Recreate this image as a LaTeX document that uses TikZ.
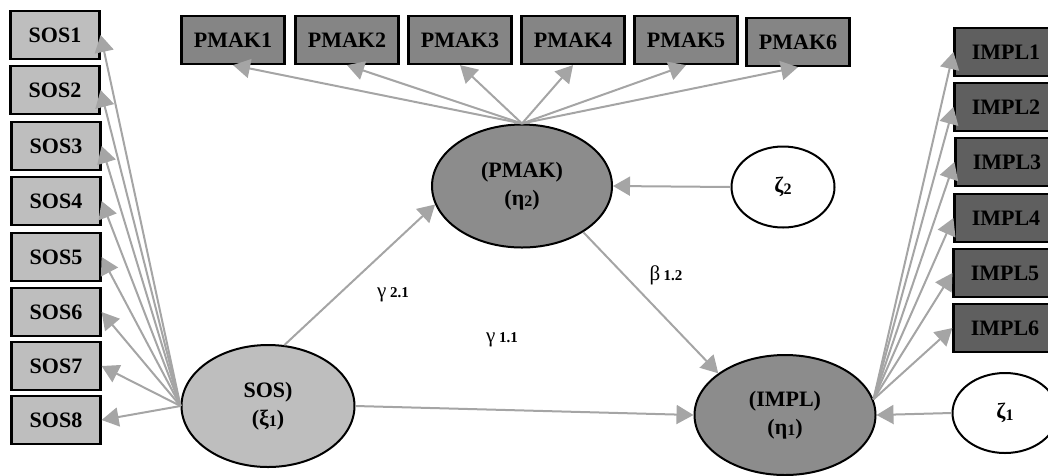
\documentclass[tikz,border=0pt]{standalone}
\usepackage{fontspec}
\setmainfont{Liberation Serif}
\usetikzlibrary{arrows.meta}
\usetikzlibrary{shapes.geometric}
\definecolor{linegray}{RGB}{165,165,165}
\definecolor{soslight}{RGB}{190,190,190}
\definecolor{pmakmid}{RGB}{133,133,133}
\definecolor{impldark}{RGB}{95,95,95}
\definecolor{latmid}{RGB}{140,140,140}
\newcommand{\lsub}[1]{\raisebox{-1.5pt}{\fontsize{16}{16}\selectfont #1}}
\newcommand{\csub}[1]{{\fontsize{15}{15}\selectfont\bfseries #1}}
\tikzset{
	%	ind/.style={rectangle,draw,thick},
	ind/.style={rectangle,draw,line width=2.2pt,minimum width=89pt,minimum height=48pt,font=\fontsize{22}{24}\selectfont\bfseries},
	lat/.style={ellipse,draw,line width=2pt,align=center,font=\fontsize{22}{28}\selectfont\bfseries},
	edge/.style={draw=linegray,line width=2pt,-{Triangle[length=17pt,width=19pt]}},
	coef/.style={font=\fontsize{21}{22}\selectfont}
}

\begin{document}
\begin{tikzpicture}[x=1pt,y=-1pt]
	\useasboundingbox (0,0) rectangle (1048,475);
	\clip (0,0) rectangle (1048,475);
	
	\node[ind,fill=soslight] (sos1) at (55,35) {SOS1};
	\node[ind,fill=soslight] (sos2) at (55,90) {SOS2};
	\node[ind,fill=soslight] (sos3) at (56,146) {SOS3};
	\node[ind,fill=soslight] (sos4) at (56,201) {SOS4};
	\node[ind,fill=soslight] (sos5) at (56,257) {SOS5};
	\node[ind,fill=soslight] (sos6) at (56,312) {SOS6};
	\node[ind,fill=soslight] (sos7) at (56,366) {SOS7};
	\node[ind,fill=soslight] (sos8) at (56,420) {SOS8};
	
	\node[ind,fill=pmakmid,minimum width=103pt] (pmak1) at (233,40) {PMAK1};
	\node[ind,fill=pmakmid,minimum width=103pt] (pmak2) at (347,40) {PMAK2};
	\node[ind,fill=pmakmid,minimum width=103pt] (pmak3) at (460,40) {PMAK3};
	\node[ind,fill=pmakmid,minimum width=103pt] (pmak4) at (573,40) {PMAK4};
	\node[ind,fill=pmakmid,minimum width=103pt] (pmak5) at (686,40) {PMAK5};
	\node[ind,fill=pmakmid,minimum width=103pt] (pmak6) at (798,42) {PMAK6};
	
	\node[ind,fill=impldark,minimum width=103pt] (impl1) at (1006,52) {IMPL1};
	\node[ind,fill=impldark,minimum width=103pt] (impl2) at (1006,107) {IMPL2};
	\node[ind,fill=impldark,minimum width=103pt] (impl3) at (1007,162) {IMPL3};
	\node[ind,fill=impldark,minimum width=103pt] (impl4) at (1006,218) {IMPL4};
	\node[ind,fill=impldark,minimum width=103pt] (impl5) at (1005,273) {IMPL5};
	\node[ind,fill=impldark,minimum width=103pt] (impl6) at (1005,328) {IMPL6};
	
	\node[lat,fill=soslight,minimum width=173pt,minimum height=122pt] (sos) at (268,406) {SOS)\\(ξ\lsub{1})};
	\node[lat,fill=latmid,minimum width=180pt,minimum height=123pt] (pmak) at (522,186) {(PMAK)\\(η\lsub{2})};
	\node[lat,fill=latmid,minimum width=181pt,minimum height=120pt] (impl) at (785,415) {(IMPL)\\(η\lsub{1})};
	\node[lat,fill=white,minimum width=103pt,minimum height=81pt] (zeta2) at (783,187) {ζ\lsub{2}};
	\node[lat,fill=white,minimum width=105pt,minimum height=80pt] (zeta1) at (1005,413) {ζ\lsub{1}};
	
	\draw[edge] (sos.west) -- (sos1.east);
	\draw[edge] (sos.west) -- (sos2.east);
	\draw[edge] (sos.west) -- (sos3.east);
	\draw[edge] (sos.west) -- (sos4.east);
	\draw[edge] (sos.west) -- (sos5.east);
	\draw[edge] (sos.west) -- (sos6.east);
	\draw[edge] (sos.west) -- (sos7.east);
	\draw[edge] (sos.west) -- (sos8.east);
	
	\draw[edge] (pmak.north) -- (pmak1.south);
	\draw[edge] (pmak.north) -- (pmak2.south);
	\draw[edge] (pmak.north) -- (pmak3.south);
	\draw[edge] (pmak.north) -- (pmak4.south);
	\draw[edge] (pmak.north) -- (pmak5.south);
	\draw[edge] (pmak.north) -- (pmak6.south);
	
	\draw[edge] (impl.10) -- (impl1.west);
	\draw[edge] (impl.10) -- (impl2.west);
	\draw[edge] (impl.10) -- (impl3.west);
	\draw[edge] (impl.10) -- (impl4.west);
	\draw[edge] (impl.10) -- (impl5.west);
	\draw[edge] (impl.10) -- (impl6.west);
	
	\draw[edge] (sos.75) -- (pmak.192);
	\draw[edge] (pmak.323) -- (impl.148);
	\draw[edge] (sos.east) -- (impl.west);
	\draw[edge] (zeta2.west) -- (pmak.east);
	\draw[edge] (zeta1.west) -- (impl.east);
	
	\node[coef] (g21) at (393,295) {γ\,\csub{2.1}};
	\node[coef] (g11) at (502,340) {γ\,\csub{1.1}};
	\node[coef] (b12) at (666,275) {β\,\csub{1.2}};
\end{tikzpicture}
\end{document}
